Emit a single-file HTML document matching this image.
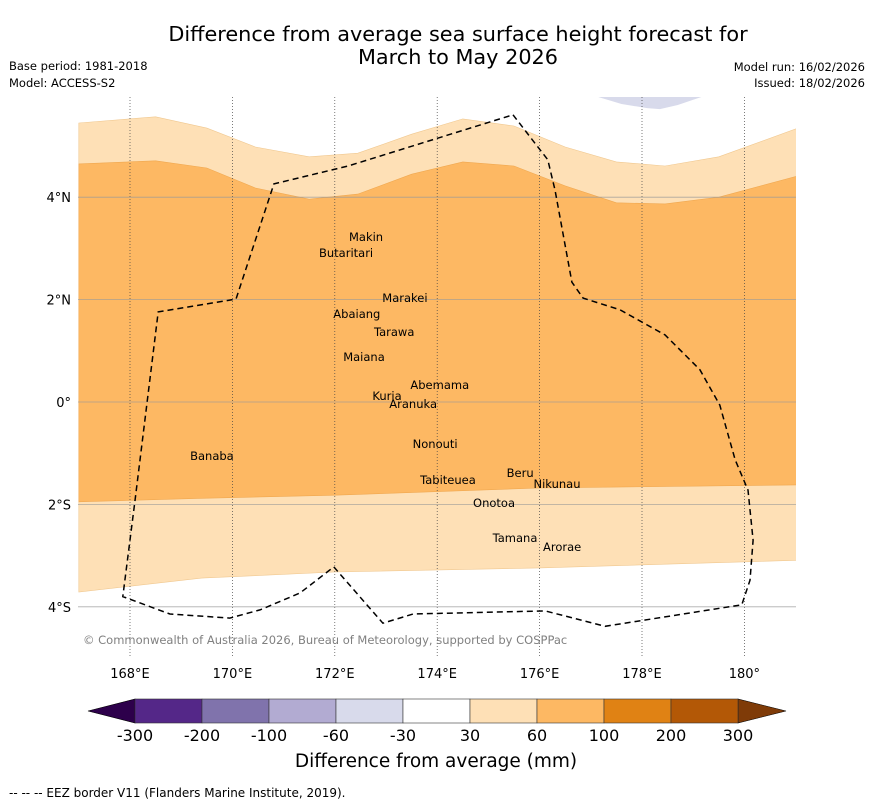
<!DOCTYPE html>
<html><head><meta charset="utf-8"><style>
body{margin:0;background:#fff;}
svg{display:block;font-family:"DejaVu Sans","Liberation Sans",sans-serif;}
</style></head><body>
<svg id="chart" width="873" height="804" viewBox="0 0 873 804">
<text x="458" y="41" font-size="20.8" text-anchor="middle">Difference from average sea surface height forecast for</text>
<text x="458" y="64" font-size="20.8" text-anchor="middle">March to May 2026</text>
<text x="9" y="70" font-size="11.5">Base period: 1981-2018</text>
<text x="9" y="87" font-size="11.5">Model: ACCESS-S2</text>
<text x="865" y="71" font-size="11.5" text-anchor="end">Model run: 16/02/2026</text>
<text x="865" y="87" font-size="11.5" text-anchor="end">Issued: 18/02/2026</text>
<g id="map"></g>
<g id="cbar"></g>
<text x="436" y="767" font-size="18.5" text-anchor="middle">Difference from average (mm)</text>
<text x="9" y="797" font-size="12">--  --  -- EEZ border V11 (Flanders Marine Institute, 2019).</text>
</svg>
<script>
const lonTicks=[168,170,172,174,176,178,180];
const lonLabels=["168°E","170°E","172°E","174°E","176°E","178°E","180°"];
const latTicks=[4,2,0,-2,-4];
const latLabels=["4°N","2°N","0°","2°S","4°S"];
const contourLons=[167,168.5,169.5,170.45,171.5,172.45,173.5,174.5,175.5,176.5,177.5,178.45,179.5,181.1];
const upper30Lats=[5.45,5.57,5.35,4.98,4.79,4.86,5.23,5.53,5.39,4.98,4.69,4.61,4.79,5.37];
const upper60Lats=[4.65,4.71,4.57,4.18,3.96,4.06,4.45,4.69,4.61,4.22,3.89,3.87,4.0,4.43];
const lowerLons=[167,169.4,172,176,181.1];
const lower60Lats=[-1.95,-1.88,-1.82,-1.68,-1.62];
const lower30Lats=[-3.71,-3.44,-3.32,-3.24,-3.09];
const blobLons=[177.1,177.6,178.1,178.35,178.7,179.2];
const blobLats=[5.97,5.82,5.74,5.72,5.8,5.97];
const eezLons=[175.48,176.16,176.30,176.63,176.85,177.57,178.45,179.13,179.52,179.82,180.07,180.17,180.11,179.95,177.28,176.11,173.53,172.94,171.98,171.32,170.54,169.95,168.78,167.86,168.10,168.55,170.07,170.81,172.26,175.48];
const eezLats=[5.61,4.73,4.14,2.34,2.03,1.80,1.31,0.63,-0.06,-1.13,-1.72,-2.70,-3.48,-3.96,-4.38,-4.08,-4.14,-4.32,-3.22,-3.73,-4.06,-4.22,-4.14,-3.80,-1.91,1.76,2.01,4.26,4.61,5.61];
const islandNames=["Makin","Butaritari","Marakei","Abaiang","Tarawa","Maiana","Abemama","Kuria","Aranuka","Nonouti","Banaba","Beru","Nikunau","Tabiteuea","Onotoa","Tamana","Arorae"];
const islandLons=[172.61,172.22,173.37,172.43,173.16,172.57,174.05,173.02,173.53,173.96,169.6,175.62,176.34,174.21,175.11,175.52,176.44];
const islandLats=[3.22,2.91,2.03,1.72,1.37,0.88,0.33,0.12,-0.04,-0.82,-1.05,-1.39,-1.60,-1.52,-1.97,-2.66,-2.83];
const cbBounds=["-300","-200","-100","-60","-30","30","60","100","200","300"];
const cbColors=["#542788","#8073ac","#b2abd2","#d8daeb","#ffffff","#fee0b6","#fdb863","#e08214","#b35806"];
const NS="http://www.w3.org/2000/svg";
const X=lon=>130+(lon-168)*51.2, Y=lat=>402-lat*51.2;
function mk(tag,attrs,parent){const e=document.createElementNS(NS,tag);for(const k in attrs)e.setAttribute(k,attrs[k]);parent.appendChild(e);return e;}
const map=document.getElementById('map');
const L=78,R=796,T=97,B=655;
const defs=mk('defs',{},map);const cp=mk('clipPath',{id:'clip'},defs);mk('rect',{x:L,y:T,width:R-L,height:B-T},cp);
const g=mk('g',{'clip-path':'url(#clip)'},map);
function pts(lons,lats){return lons.map((l,i)=>X(l).toFixed(1)+','+Y(lats[i]).toFixed(1));}
let p=mk('polygon',{points:pts(contourLons,upper30Lats).join(' ')+' '+pts(lowerLons,lower30Lats).reverse().join(' '),fill:'#fee0b6',stroke:'#f0c890','stroke-width':0.6},g);


p=mk('polygon',{points:pts(contourLons,upper60Lats).join(' ')+' '+pts(lowerLons,lower60Lats).reverse().join(' '),fill:'#fdb863',stroke:'#f0a850','stroke-width':0.6},g);


p=mk('polygon',{points:pts(blobLons,blobLats).join(' '),fill:'#d8daeb'},g);


lonTicks.forEach((t,i)=>{
 const l=mk('line',{x1:X(t),x2:X(t),y1:T,y2:657,stroke:'#444','stroke-width':0.7,'stroke-dasharray':'1,2'},map);
 
 
 const tx=mk('text',{x:X(t),y:678,'font-size':13,'text-anchor':'middle'},map);tx.textContent=lonLabels[i];
 
 
});
latTicks.forEach((t,i)=>{
 const l=mk('line',{x1:L,x2:R,y1:Y(t),y2:Y(t),stroke:'#999','stroke-width':0.8,opacity:0.8},map);
 
 
 const tx=mk('text',{x:71,y:Y(t)+5,'font-size':13,'text-anchor':'end'},map);tx.textContent=latLabels[i];
 
 
});
const eez=mk('polyline',{points:pts(eezLons,eezLats).join(' '),fill:'none',stroke:'#000','stroke-width':1.5,'stroke-dasharray':'6,4'},map);


islandNames.forEach((n,i)=>{
 const tx=mk('text',{x:X(islandLons[i]),y:Y(islandLats[i])+4,'font-size':11.5,'text-anchor':'middle'},map);tx.textContent=n;
 
 
});
const cr=mk('text',{x:83,y:644,'font-size':11.5,fill:'#808080'},map);cr.textContent='© Commonwealth of Australia 2026, Bureau of Meteorology, supported by COSPPac';


const cb=document.getElementById('cbar');
const cx0=135,cw=67.0,cy=699,ch=24;
let a=mk('polygon',{points:`${cx0},${cy} ${cx0},${cy+ch} 88,${cy+ch/2}`,fill:'#2d004b',stroke:'#000','stroke-width':0.6},cb);


const cx1=cx0+cw*cbColors.length;
a=mk('polygon',{points:`${cx1},${cy} ${cx1},${cy+ch} 786,${cy+ch/2}`,fill:'#7f3b08',stroke:'#000','stroke-width':0.6},cb);


cbColors.forEach((c,i)=>{
 const r=mk('rect',{x:cx0+i*cw,y:cy,width:cw,height:ch,fill:c,stroke:'#333','stroke-width':0.6},cb);
 
 
});
cbBounds.forEach((b,i)=>{
 const tx=mk('text',{x:cx0+i*cw,y:741,'font-size':16,'text-anchor':'middle'},cb);tx.textContent=b;
 
 
});
</script>
</body></html>
